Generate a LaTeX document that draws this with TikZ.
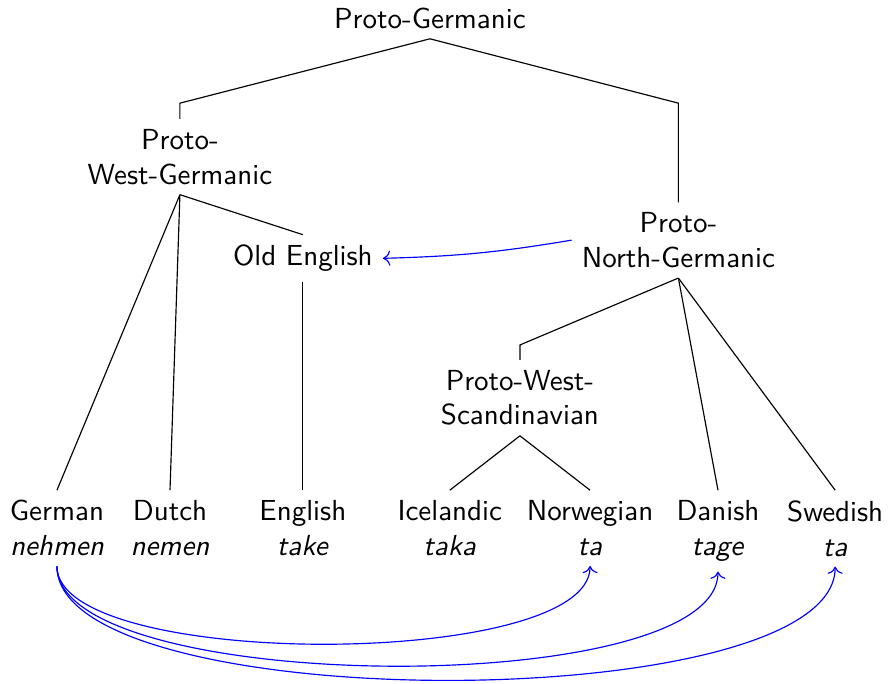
\documentclass[tikz,border=0pt]{standalone}
\usepackage{tikz}
\usetikzlibrary{calc}
\usetikzlibrary{positioning, arrows.meta}

\begin{document}
\begin{tikzpicture}
        % Define styles for languages and links
        \tikzset{
            lang/.style={align=center, font=\sffamily},
            leaf/.style={lang, anchor=north},
            branch/.style={draw, black},
            borrow/.style={->, blue}
        }
        \useasboundingbox (0,0) rectangle (10.76,-8.28);
        % Proto languages
        \node[lang] (pg) at (5.21, -0.22) {Proto-Germanic};
        \node[lang] (pwg) at (2.18, -1.90) {Proto-\\West-Germanic};
        \node[lang] (png) at (8.22, -2.91) {Proto-\\North-Germanic};
        \node[lang] (oe) at (3.67, -3.13) {Old English};
        \node[lang] (pws) at (6.30, -4.82) {Proto-West-\\Scandinavian};
        % Modern languages
        \node[leaf] (german) at (0.69, -5.94) {German\\\textit{nehmen}};
        \node[leaf] (dutch) at (2.06, -5.94) {Dutch\\\textit{nemen}};
        \node[leaf] (english) at (3.67, -5.94) {English\\\textit{take}};
        \node[leaf] (icelandic) at (5.45, -5.94) {Icelandic\\\textit{taka}};
        \node[leaf] (norwegian) at (7.15, -5.94) {Norwegian\\\textit{ta}};
        \node[leaf] (danish) at (8.70, -5.94) {Danish\\\textit{tage}};
        \node[leaf] (swedish) at (10.12, -5.94) {Swedish\\\textit{ta}};
        % Draw tree
        \draw[branch] (pg.south) -- (pwg.north |- 0,-1.25) -- (pwg.north);
        \draw[branch] (pg.south) -- (png.north |- 0,-1.25) -- (png.north);
        \draw[branch] (pwg.south) -- (german.north);
        \draw[branch] (pwg.south) -- (dutch.north);
        \draw[branch] (pwg.south) -- (oe.north);
        \draw[branch] (oe.south) -- (english.north);
        \draw[branch] (png.south) -- (pws.north |- 0,-4.18) -- (pws.north);
        \draw[branch] (png.south) -- (danish.north);
        \draw[branch] (png.south) -- (swedish.north);
        \draw[branch] (pws.south) -- (icelandic.north);
        \draw[branch] (pws.south) -- (norwegian.north);
        % Borrowings
        \draw[borrow] (png.west) to[bend left=4] (oe.east);
        \draw[borrow] (german.south) to[out=-90, in=-90, looseness=0.5] (norwegian.south);
        \draw[borrow] (german.south) to[out=-90, in=-90, looseness=0.5] (danish.south);
        \draw[borrow] (german.south) to[out=-90, in=-90, looseness=0.5] (swedish.south);
\end{tikzpicture}
\end{document}
